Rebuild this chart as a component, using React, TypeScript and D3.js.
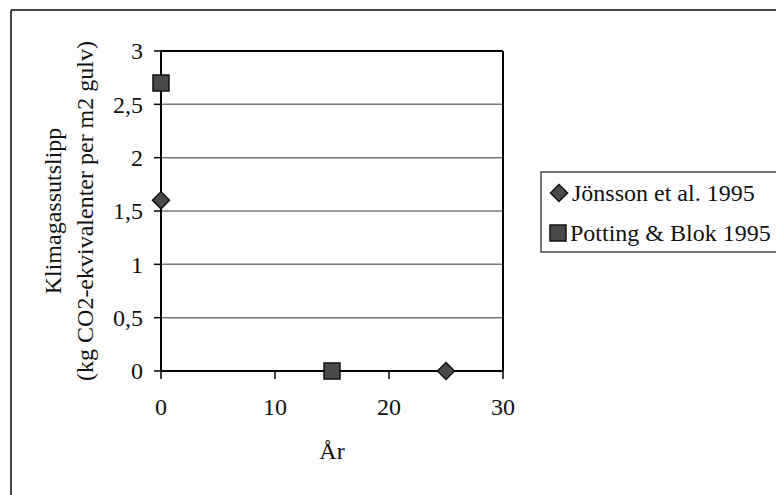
import React from "react";
import * as d3 from "d3";

const jonssonX = [0, 25];
const jonssonY = [1.6, 0];
const pottingX = [0, 15];
const pottingY = [2.7, 0];
const xTicks = [0, 10, 20, 30];
const yTicks = [0, 0.5, 1, 1.5, 2, 2.5, 3];
const seriesNames = ["Jönsson et al. 1995", "Potting & Blok 1995"];
const xTitle = "År";
const yTitle1 = "Klimagassutslipp";
const yTitle2 = "(kg CO2-ekvivalenter per m2 gulv)";

const W = 776;
const H = 495;
const font = '"Liberation Serif", "Times New Roman", "DejaVu Serif", serif';
const fs = 24;

export default function App() {
  const x = d3.scaleLinear().domain([0, 30]).range([161, 503]);
  const y = d3.scaleLinear().domain([0, 3]).range([371, 51]);
  const fmt = (v: number) => String(v).replace(".", ",");
  const sq = 16;
  const diamondPath = (r: number) => `M0,${-r}L${r},0L0,${r}L${-r},0Z`;
  const markFill = "#4a4a4a";
  const markStroke = "#111";
  const ts = { fontFamily: font, fontSize: fs, fill: "#111" } as React.CSSProperties;

  return (
    <svg
      width={W}
      height={H}
      style={{ position: "absolute", left: 0, top: 0, background: "#fff", fontFamily: font }}
    >
      <rect x={0} y={0} width={W} height={H} fill="#fff" />
      {/* outer frame */}
      <line x1={11} y1={10} x2={W} y2={10} stroke="#444" strokeWidth={2} />
      <line x1={11} y1={10} x2={11} y2={H} stroke="#444" strokeWidth={2} />

      {/* gridlines */}
      {yTicks.map((t) => (
        <line
          key={"g" + t}
          x1={x(0)}
          x2={x(30)}
          y1={y(t)}
          y2={y(t)}
          stroke={t === 3 || t === 0 ? "#000" : "#777"}
          strokeWidth={t === 3 || t === 0 ? 2 : 1.5}
        />
      ))}
      {/* plot borders */}
      <line x1={x(0)} x2={x(0)} y1={y(3)} y2={y(0)} stroke="#000" strokeWidth={2} />
      <line x1={x(30)} x2={x(30)} y1={y(3)} y2={y(0)} stroke="#000" strokeWidth={2} />

      {/* y ticks */}
      {yTicks.map((t) => (
        <g key={"yt" + t}>
          <line x1={x(0) - 7} x2={x(0)} y1={y(t)} y2={y(t)} stroke="#000" strokeWidth={1.5} />
          <text x={143} y={y(t)} dy="0.35em" textAnchor="end" style={ts}>
            {fmt(t)}
          </text>
        </g>
      ))}
      {/* x ticks */}
      {xTicks.map((t) => (
        <g key={"xt" + t}>
          <line x1={x(t)} x2={x(t)} y1={y(0)} y2={y(0) + 8} stroke="#000" strokeWidth={1.5} />
          <text x={x(t)} y={415} textAnchor="middle" style={ts}>
            {t}
          </text>
        </g>
      ))}

      {/* axis titles */}
      <text x={332} y={459} textAnchor="middle" style={ts}>
        {xTitle}
      </text>
      <text
        transform={`translate(53, ${(y(0) + y(3)) / 2}) rotate(-90)`}
        textAnchor="middle"
        dy="0.35em"
        style={ts}
      >
        {yTitle1}
      </text>
      <text
        transform={`translate(85, ${(y(0) + y(3)) / 2}) rotate(-90)`}
        textAnchor="middle"
        dy="0.35em"
        style={ts}
      >
        {yTitle2}
      </text>

      {/* data: Potting squares */}
      {pottingX.map((d, i) => (
        <rect
          key={"p" + i}
          x={x(d) - sq / 2}
          y={y(pottingY[i]) - sq / 2}
          width={sq}
          height={sq}
          fill={markFill}
          stroke={markStroke}
          strokeWidth={1.5}
        />
      ))}
      {/* data: Jönsson diamonds */}
      {jonssonX.map((d, i) => (
        <path
          key={"j" + i}
          d={diamondPath(8.5)}
          transform={`translate(${x(d)}, ${y(jonssonY[i])})`}
          fill={markFill}
          stroke={markStroke}
          strokeWidth={1.5}
        />
      ))}

      {/* legend */}
      <rect x={541} y={172} width={260} height={80} fill="#fff" stroke="#444" strokeWidth={1.5} />
      <path d={diamondPath(8.5)} transform="translate(559, 193)" fill={markFill} stroke={markStroke} strokeWidth={1.5} />
      <text x={572} y={193} dy="0.35em" style={ts}>
        {seriesNames[0]}
      </text>
      <rect x={550} y={225} width={16} height={16} fill={markFill} stroke={markStroke} strokeWidth={1.5} />
      <text x={570} y={233} dy="0.35em" style={ts}>
        {seriesNames[1]}
      </text>
    </svg>
  );
}
